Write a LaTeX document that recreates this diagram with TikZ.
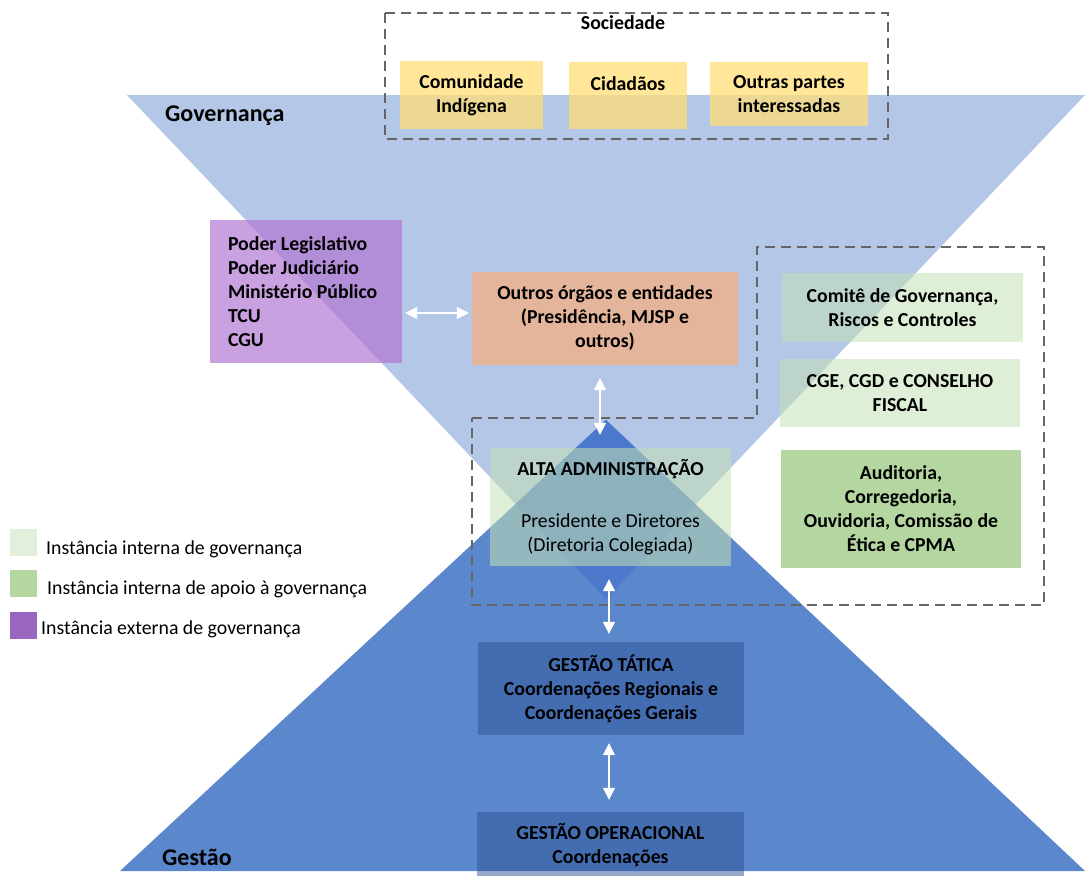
\documentclass[tikz,border=0pt]{standalone}
\usepackage{fontspec}
\setmainfont{Carlito}
\usetikzlibrary{arrows.meta}

\definecolor{govblue}{HTML}{B4C7E7}
\definecolor{gesblue}{HTML}{5B87CC}
\definecolor{midblue}{HTML}{4C79CC}
\definecolor{yelbox}{HTML}{FFDE77}
\definecolor{purbox}{HTML}{B277D3}
\definecolor{orabox}{HTML}{E4B59B}
\definecolor{intgreen}{HTML}{C5E0B4}
\definecolor{apgreen}{HTML}{B4D6A0}
\definecolor{gesbox}{HTML}{2F5597}
\definecolor{dashgray}{HTML}{666666}
\definecolor{legpurple}{HTML}{9966C0}
\definecolor{leglight}{HTML}{E2EFDA}

\newcommand\boxfont{\fontsize{19.8}{24}\selectfont}
\newcommand\titlefont{\fontsize{24}{28}\selectfont}

\tikzset{
    base/.style={inner sep=0pt, align=center, font=\boxfont\bfseries},
    yellowbox/.style={base, fill=yelbox, fill opacity=.75, text opacity=1},
    internbox/.style={base, fill=intgreen, fill opacity=.55, text opacity=1},
    apoiobox/.style={base, fill=apgreen},
    gestbox/.style={base, fill=gesbox, fill opacity=.5, text opacity=1},
    dashframe/.style={draw=dashgray, line width=2.2, dash pattern=on 10 off 6},
    biarrow/.style={white, line width=1.3,
        {Triangle[width=12,length=12]}-{Triangle[width=12,length=12]}},
    legsquare/.style={minimum size=27, inner sep=0pt},
    legtext/.style={anchor=west, inner sep=0pt, font=\boxfont}
}

\begin{document}
\begin{tikzpicture}[x=1pt, y=-1pt]
    \useasboundingbox (0,0) rectangle (1088,876);

    \fill[govblue] (127,95) -- (1085,95) -- (606,599) -- cycle;
    \fill[gesblue] (120,871) -- (1085,871) -- (606,420) -- cycle;
    \begin{scope}
        \clip (127,95) -- (1085,95) -- (606,599) -- cycle;
        \fill[midblue] (120,871) -- (1085,871) -- (606,420) -- cycle;
    \end{scope}

    \node[anchor=west, inner sep=0pt, font=\titlefont\bfseries] (gov) at (165,116) {Governança};
    \node[anchor=west, inner sep=0pt, font=\titlefont\bfseries] (ges) at (162,857) {Gestão};

    \draw[dashframe] (385,13) rectangle (888,139);
    \draw[dashframe] (472,418) -- (757,418) -- (757,247) -- (1044,247)
        -- (1044,605) -- (472,605) -- cycle;

    \node[base] (soc) at (623,23) {Sociedade};
    \node[yellowbox, minimum width=143, minimum height=68] (indig) at (471.5,95) {Comunidade\\Indígena};
    \node[yellowbox, minimum width=118, minimum height=67] (cidad) at (628,95.5) {Cidadãos\\\mbox{}};
    \node[yellowbox, minimum width=158, minimum height=64] (partes) at (789,94) {Outras partes\\interessadas};

    \node[base, fill=purbox, fill opacity=.7, text opacity=1, align=flush left,
        text width=156, inner xsep=18, minimum height=143] (poder) at (306,291.5)
        {Poder Legislativo\\Poder Judiciário\\Ministério Público\\TCU\\CGU};
    \node[base, fill=orabox, minimum width=266, minimum height=93] (outros) at (605,318.5)
        {Outros órgãos e entidades\\(Presidência, MJSP e\\outros)};

    \node[internbox, minimum width=241, minimum height=69] (comite) at (902.5,307.5)
        {Comitê de Governança,\\Riscos e Controles};
    \node[internbox, minimum width=240, minimum height=68] (cge) at (900,393)
        {CGE, CGD e CONSELHO\\FISCAL};
    \node[apoiobox, minimum width=240, minimum height=118] (audit) at (901,509)
        {Auditoria,\\Corregedoria,\\Ouvidoria, Comissão de\\Ética e CPMA};

    \node[internbox, font=\boxfont, minimum width=241, minimum height=118] (alta) at (610.5,507)
        {\textbf{ALTA ADMINISTRAÇÃO}\\[28pt]Presidente e Diretores\\(Diretoria Colegiada)};
    \node[gestbox, minimum width=266, minimum height=93] (tatica) at (611,688.5)
        {GESTÃO TÁTICA\\Coordenações Regionais e\\Coordenações Gerais};
    \node[gestbox, minimum width=267, minimum height=67] (oper) at (610.5,845.5)
        {GESTÃO OPERACIONAL\\Coordenações};

    \draw[biarrow, shorten <=3, shorten >=3] ([yshift=5.5]outros.west -| poder.east) -- ([yshift=5.5]outros.west);
    \draw[biarrow, shorten <=13, shorten >=13] ([xshift=-5]outros.south) -- ([xshift=-5]outros.south |- alta.north);
    \draw[biarrow, shorten <=13, shorten >=8] ([xshift=-1.5]alta.south) -- ([xshift=-1.5]alta.south |- tatica.north);
    \draw[biarrow, shorten <=8, shorten >=12] ([xshift=-2]tatica.south) -- ([xshift=-2]tatica.south |- oper.north);

    \node[legsquare, fill=leglight] (sq1) at (23.5,542.5) {};
    \node[legsquare, fill=apgreen] (sq2) at (23.5,583.5) {};
    \node[legsquare, fill=legpurple] (sq3) at (23.5,625) {};
    \node[legtext] (lg1) at (46,549) {Instância interna de governança};
    \node[legtext] (lg2) at (47,589) {Instância interna de apoio à governança};
    \node[legtext] (lg3) at (41,629) {Instância externa de governança};
\end{tikzpicture}
\end{document}
